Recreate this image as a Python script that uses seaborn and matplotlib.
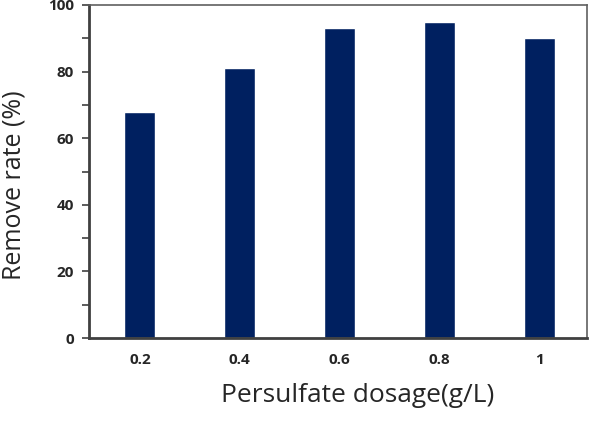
import matplotlib
matplotlib.use("Agg")
import matplotlib.pyplot as plt
import seaborn as sns
import pandas as pd
from matplotlib.ticker import MultipleLocator

# dane
dosage = ["0.2", "0.4", "0.6", "0.8", "1"]
remove_rate = [68, 81, 93, 95, 90]

df = pd.DataFrame({"dosage": dosage, "rate": remove_rate})

sns.set_style("white")
plt.rcParams['font.family'] = ['Open Sans', 'DejaVu Sans']

fig = plt.figure(figsize=(5.9, 4.22), dpi=100)
ax = fig.add_axes([89/590, 1 - 338/422, 498/590, 333/422])

sns.barplot(data=df, x="dosage", y="rate", color="#002060", width=0.31,
            saturation=1, ax=ax)

ax.set_xlim(-0.51, 4.48)
ax.set_ylim(0, 100)
ax.yaxis.set_major_locator(MultipleLocator(20))
ax.yaxis.set_minor_locator(MultipleLocator(10))
ax.tick_params(axis="y", which="both", direction="out", left=True, length=5,
               width=1.2, color="#404040", pad=6)
ax.tick_params(axis="x", bottom=False, pad=7)

for lab in ax.get_xticklabels() + ax.get_yticklabels():
    lab.set_fontsize(11)
    lab.set_fontweight("bold")

ax.set_xlabel("Persulfate dosage(g/L)", fontsize=19)
ax.set_ylabel("Remove rate (%)", fontsize=18)
ax.xaxis.set_label_coords(0.54, -0.135)
ax.yaxis.set_label_coords(-0.125, 0.46)

for side in ["left", "bottom"]:
    ax.spines[side].set_color("#404040")
    ax.spines[side].set_linewidth(2)
for side in ["top", "right"]:
    ax.spines[side].set_color("#606060")
    ax.spines[side].set_linewidth(1.2)

fig.savefig("out.png", dpi=100)
